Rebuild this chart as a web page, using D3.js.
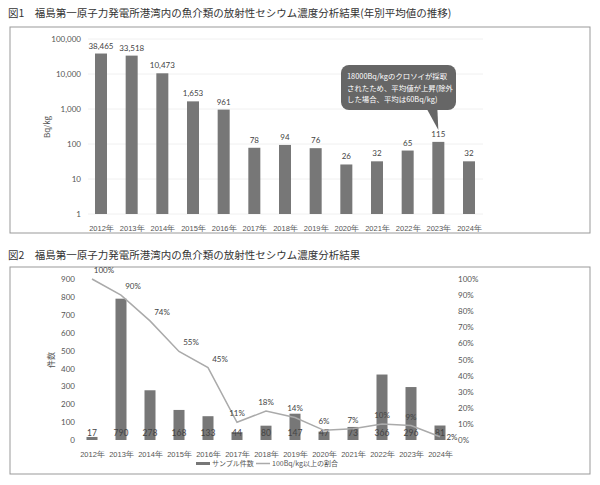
<!DOCTYPE html>
<html><head><meta charset="utf-8">
<script src="https://cdn.jsdelivr.net/npm/d3@7"></script>
<style>body{margin:0;background:#fff;font-family:"Noto Sans CJK JP","Noto Sans",sans-serif}</style>
</head><body><svg id="c" width="600" height="485"></svg>
<script>
const years=["2012年","2013年","2014年","2015年","2016年","2017年","2018年","2019年","2020年","2021年","2022年","2023年","2024年"];
const avgBq=[38465,33518,10473,1653,961,78,94,76,26,32,65,115,32];
const avgLabels=["38,465","33,518","10,473","1,653","961","78","94","76","26","32","65","115","32"];
const yTicks1=[1,10,100,1000,10000,100000];
const samples=[17,790,278,168,133,44,80,147,47,73,366,296,81];
const ratio=[100,90,74,55,45,11,18,14,6,7,10,9,2];
const leftTicks=[0,100,200,300,400,500,600,700,800,900];
const rightTicks=[0,10,20,30,40,50,60,70,80,90,100];
const title1="図1　福島第一原子力発電所港湾内の魚介類の放射性セシウム濃度分析結果(年別平均値の推移)";
const title2="図2　福島第一原子力発電所港湾内の魚介類の放射性セシウム濃度分析結果";
const note=["18000Bq/kgのクロソイが採取","されたため、平均値が上昇(除外","した場合、平均は60Bq/kg)"];

const svg=d3.select("#c");
const tc="#555", bar="#777";
// Chart 1
svg.append("text").attr("x",8).attr("y",17).attr("font-size",10.5).attr("fill","#333").text(title1);
svg.append("rect").attr("x",10).attr("y",27).attr("width",580).attr("height",206).attr("fill","none").attr("stroke","#999");
const x1=d3.scalePoint().domain(years).range([101,469]);
const y1=d3.scaleLog().domain([1,100000]).range([214,39]);
const g1=svg.append("g");
g1.selectAll(".gl").data(yTicks1).enter().append("line").attr("x1",88).attr("x2",483).attr("y1",d=>y1(d)).attr("y2",d=>y1(d)).attr("stroke","#f0f0f0");
const ax1=d3.axisLeft(y1).tickValues(yTicks1).tickFormat(d3.format(",")).tickSize(0).tickPadding(0);
const a1=g1.append("g").attr("transform","translate(81,0)").call(ax1);
a1.select(".domain").remove();
a1.selectAll("text").attr("font-size",8).attr("fill",tc).attr("font-family","Lato,sans-serif");
g1.selectAll(".b").data(avgBq).enter().append("rect").attr("x",(d,i)=>x1(years[i])-6).attr("width",12)
 .attr("y",d=>y1(d)).attr("height",d=>y1(1)-y1(d)).attr("fill",bar);
g1.selectAll(".l").data(avgBq).enter().append("text").attr("x",(d,i)=>x1(years[i])).attr("y",d=>y1(d)-5)
 .attr("text-anchor","middle").attr("font-size",8).attr("fill","#444").attr("font-family","Lato,sans-serif").text((d,i)=>avgLabels[i]);
const xa1=d3.axisBottom(x1).tickSize(0).tickPadding(0);
const xa=g1.append("g").attr("transform","translate(0,226)").call(xa1);
xa.select(".domain").remove();
xa.selectAll("text").attr("font-size",7.5).attr("fill",tc);
svg.append("text").attr("transform","translate(50,127) rotate(-90)").attr("text-anchor","middle").attr("font-size",8).attr("fill",tc).text("Bq/kg");
// callout
const cx=x1(years[11]);
svg.append("path").attr("d",`M${cx-12},108 L${cx},${y1(115)-12} L${cx-1},108 Z`).attr("fill","#666");
svg.append("rect").attr("x",341).attr("y",65).attr("width",115).attr("height",45).attr("rx",8).attr("fill","#666");
note.forEach((t,i)=>svg.append("text").attr("x",347).attr("y",79+i*11.5).attr("font-size",7.4).attr("fill","#fff").text(t));

// Chart 2
svg.append("text").attr("x",8).attr("y",259).attr("font-size",10.5).attr("fill","#333").text(title2);
svg.append("rect").attr("x",10).attr("y",267).attr("width",580).attr("height",207).attr("fill","none").attr("stroke","#999");
const x2=d3.scalePoint().domain(years).range([92,440]);
const y2=d3.scaleLinear().domain([0,900]).range([440,279]);
const r2=d3.scaleLinear().domain([0,100]).range([440,279]);
const g2=svg.append("g");
const al=g2.append("g").attr("transform","translate(75,0)").call(d3.axisLeft(y2).tickValues(leftTicks).tickSize(0).tickPadding(0));
al.select(".domain").remove(); al.selectAll("text").attr("font-size",8).attr("fill",tc).attr("font-family","Lato,sans-serif");
const ar=g2.append("g").attr("transform","translate(458,0)").call(d3.axisRight(r2).tickValues(rightTicks).tickFormat(d=>d+"%").tickSize(0).tickPadding(0));
ar.select(".domain").remove(); ar.selectAll("text").attr("font-size",8).attr("fill",tc).attr("font-family","Lato,sans-serif");
g2.selectAll(".b").data(samples).enter().append("rect").attr("x",(d,i)=>x2(years[i])-5.5).attr("width",11)
 .attr("y",d=>y2(d)).attr("height",d=>y2(0)-y2(d)).attr("fill",bar);
g2.selectAll(".bl").data(samples).enter().append("text").attr("x",(d,i)=>x2(years[i])).attr("y",436)
 .attr("text-anchor","middle").attr("font-size",8.5).attr("fill","#444").attr("font-family","Lato,sans-serif").text(d=>d);
const line=d3.line().x((d,i)=>x2(years[i])).y(d=>r2(d));
g2.append("path").attr("d",line(ratio)).attr("fill","none").attr("stroke","#aaa").attr("stroke-width",1.5);
g2.selectAll(".pl").data(ratio).enter().append("text").attr("x",(d,i)=>x2(years[i])+(i==12?12:i<5?12:0)).attr("y",(d,i)=>i==12?r2(d)+3:r2(d)-6)
 .attr("text-anchor","middle").attr("font-size",8).attr("fill","#444").attr("font-family","Lato,sans-serif").text(d=>d+"%");
const xb=g2.append("g").attr("transform","translate(0,452)").call(d3.axisBottom(x2).tickSize(0).tickPadding(0));
xb.select(".domain").remove(); xb.selectAll("text").attr("font-size",7.5).attr("fill",tc);
svg.append("text").attr("transform","translate(54,360) rotate(-90)").attr("text-anchor","middle").attr("font-size",8).attr("fill",tc).text("件数");
// legend
svg.append("rect").attr("x",196).attr("y",462).attr("width",14).attr("height",3).attr("fill",bar);
svg.append("text").attr("x",212).attr("y",466).attr("font-size",7).attr("fill",tc).text("サンプル件数");
svg.append("line").attr("x1",256).attr("x2",270).attr("y1",463.5).attr("y2",463.5).attr("stroke","#aaa").attr("stroke-width",1.5);
svg.append("text").attr("x",272).attr("y",466).attr("font-size",7).attr("fill",tc).text("100Bq/kg以上の割合");
</script></body></html>
